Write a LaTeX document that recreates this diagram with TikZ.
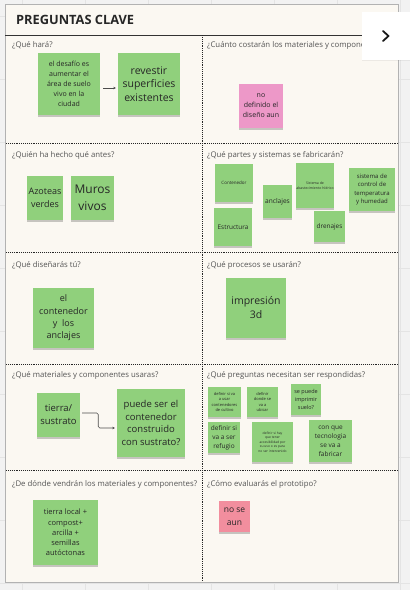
\documentclass[tikz,border=0pt]{standalone}
\usepackage{fontspec}
\setmainfont{Open Sans}
\usetikzlibrary{shadows,arrows.meta}
\definecolor{outsidec}{RGB}{242,242,242}
\definecolor{gridc}{RGB}{228,228,228}
\definecolor{boardc}{RGB}{251,248,242}
\definecolor{stick}{RGB}{144,208,124}
\definecolor{pinkA}{RGB}{237,152,200}
\definecolor{pinkB}{RGB}{242,142,158}
\definecolor{labelc}{RGB}{85,85,85}
\newcommand\fsz[2]{\fontsize{#1}{#2}\selectfont}
\begin{document}
\begin{tikzpicture}[x=1pt,y=-1pt,
  note/.style={fill=stick, text=black!85, align=center, inner sep=0pt,
    drop shadow={shadow xshift=0pt,shadow yshift=-2.2pt,opacity=.3,fill=black!70}},
  pnote/.style={note, fill=pinkA},
  rnote/.style={note, fill=pinkB},
  qlabel/.style={anchor=west, inner sep=0pt, text=labelc, font=\fsz{7.8}{9}},
  dotline/.style={black!85, line width=0.8pt, dash pattern=on 0.8pt off 1.1pt},
  arr/.style={black!70, line width=0.6pt, -{Stealth[length=2.5pt,width=2.5pt]}}
]
\useasboundingbox (0,0) rectangle (410,590);
\fill[outsidec] (0,0) rectangle (410,590);
\foreach \gx in {22,85,148,211,274,337,400} \draw[gridc, line width=0.6pt] (\gx,0) -- (\gx,590);
\foreach \gy in {16,79,142,205,268,331,394,457,520,583} \draw[gridc, line width=0.6pt] (0,\gy) -- (410,\gy);
\filldraw[fill=boardc, draw=black!30, line width=0.6pt] (5,4) rectangle (398,582);

% title
\node[anchor=west, inner sep=0pt, text=black!85, font=\bfseries\fsz{12.8}{14}] (title) at (16,20) {PREGUNTAS CLAVE};
\draw[black!80, line width=0.8pt] (5,35) -- (398,35);

% grid of sections
\draw[dotline] (202,35) -- (202,582);
\foreach \ly in {143,252,364,470} \draw[dotline] (6,\ly) -- (398,\ly);

% labels
\node[qlabel] (q1) at (12,45) {¿Qué hará?};
\node[qlabel] (q2) at (207,45) {¿Cuánto costarán los materiales y componentes?};
\node[qlabel] (q3) at (12,155.5) {¿Quién ha hecho qué antes?};
\node[qlabel] (q4) at (207,155.5) {¿Qué partes y sistemas se fabricarán?};
\node[qlabel] (q5) at (12,265) {¿Qué diseñarás tú?};
\node[qlabel] (q6) at (207,265) {¿Qué procesos se usarán?};
\node[qlabel] (q7) at (12,375) {¿Qué materiales y componentes usaras?};
\node[qlabel] (q8) at (207,375) {¿Qué preguntas necesitan ser respondidas?};
\node[qlabel] (q9) at (12,484) {¿De dónde vendrán los materiales y componentes?};
\node[qlabel] (q10) at (207,484) {¿Cómo evaluarás el prototipo?};

% notes: que hara
\node[note, minimum width=62, minimum height=62, font=\fsz{7}{10}] (n1) at (69,84) {el desafío es\\aumentar el\\área de suelo\\vivo en la\\ciudad};
\node[note, minimum width=62, minimum height=62, font=\fsz{10.5}{13.8}] (n2) at (149,84) {revestir\\superficies\\existentes};
\draw[arr] ([xshift=3pt,yshift=-4pt]n1.east) -- ([xshift=-2pt,yshift=-4pt]n2.west);
% cuanto
\node[pnote, minimum width=44, minimum height=44, font=\fsz{7}{10}] (pk) at (261,106) {no\\definido el\\diseño aun};
% quien
\node[note, minimum width=36, minimum height=44, font=\fsz{9}{12.5}] (az) at (45,198) {Azoteas\\verdes};
\node[note, minimum width=43, minimum height=44, font=\fsz{12}{16.5}] (mu) at (92.5,198) {Muros\\vivos};
% partes
\node[note, minimum width=38, minimum height=38, font=\fsz{4.5}{6}] (co) at (234,183) {Contenedor};
\node[note, minimum width=29, minimum height=33, font=\fsz{6.6}{8}] (an) at (277.5,201.5) {anclajes};
\node[note, minimum width=36, minimum height=45, font=\fsz{3.5}{5}] (sa) at (315,185.5) {Sistema de\\abastecimiento hídrico};
\node[note, minimum width=46, minimum height=43, font=\fsz{6}{8.2}] (sc) at (372,189.5) {sistema de\\control de\\temperatura\\y humedad};
\node[note, minimum width=38, minimum height=38, font=\fsz{6.4}{8}] (es) at (233,227) {Estructura};
\node[note, minimum width=31, minimum height=31, font=\fsz{6.4}{8}] (dr) at (329.5,226.5) {drenajes};
% disenaras
\node[note, minimum width=61, minimum height=60, font=\fsz{9}{12.3}] (ec) at (63.5,318) {el\\contenedor\\y~~los\\anclajes};
% procesos
\node[note, minimum width=60, minimum height=60, font=\fsz{10.5}{14}] (im) at (256,308) {impresión\\3d};
% materiales
\node[note, minimum width=43, minimum height=44, font=\fsz{9.5}{13}] (ti) at (58.5,415) {tierra/\\sustrato};
\node[note, minimum width=68, minimum height=68, font=\fsz{9.5}{12.7}] (pu) at (151,423) {puede ser el\\contenedor\\construido\\con sustrato?};
\draw[arr, rounded corners=1.5pt] ([xshift=2pt,yshift=2pt]ti.east) -- ++(16,0) |- ([xshift=-2pt,yshift=-5pt]pu.west);
% preguntas
\node[note, minimum width=33, minimum height=30, font=\fsz{4}{5.6}] (p1) at (224.5,402) {definir si va\\a usar\\contenedores\\de cultivo};
\node[note, minimum width=31, minimum height=30, font=\fsz{4}{5.6}] (p2) at (262.5,402) {definir\\donde se\\va a\\ubicar};
\node[note, minimum width=30, minimum height=31, font=\fsz{5.5}{8.3}] (p3) at (306,399.5) {se puede\\imprimir\\suelo?};
\node[note, minimum width=32, minimum height=31, font=\fsz{6.5}{9}] (p4) at (224,437.5) {definir si\\va a ser\\refugio};
\node[note, minimum width=41, minimum height=40, font=\fsz{3.3}{4.6}] (p5) at (272.5,442) {definir si hay\\que tener\\accesibilidad por\\su uso o es para\\no ser intervenido};
\node[note, minimum width=43, minimum height=42, font=\fsz{6.5}{9}] (p6) at (330.5,441) {con que\\tecnologia\\se va a\\fabricar};
% de donde
\node[note, minimum width=65, minimum height=65, font=\fsz{7.5}{10.3}] (tl) at (65.5,532.5) {tierra local +\\compost+\\arcilla +\\semillas\\autóctonas};
% evaluar
\node[rnote, minimum width=31, minimum height=31, font=\fsz{8.5}{12.7}] (ns) at (234.5,516.5) {no se\\aun};

% side panel
\node[fill=white, minimum width=48, minimum height=48, inner sep=0pt,
  drop shadow={shadow xshift=0pt,shadow yshift=-1pt,opacity=.12}] (panel) at (386,36) {};
\draw[black!90, line width=1.8pt, line cap=round, line join=round] ([xshift=-3pt,yshift=5pt]panel.center) -- ([xshift=2.5pt]panel.center) -- ([xshift=-3pt,yshift=-5pt]panel.center);
\end{tikzpicture}
\end{document}
